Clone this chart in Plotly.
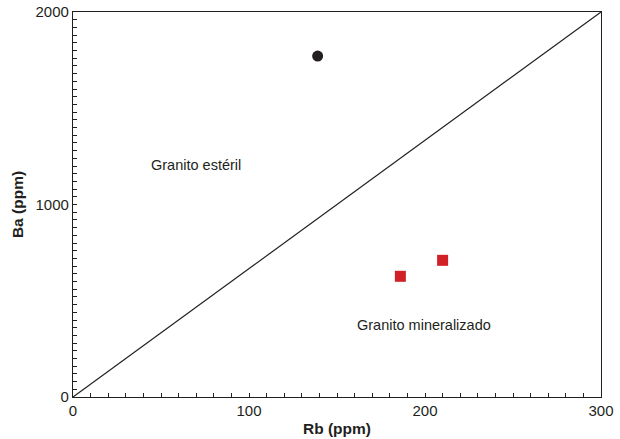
import plotly.graph_objects as go

# Data
esteril_rb = [139]
esteril_ba = [1771]
mineral_rb = [186, 210]
mineral_ba = [627, 710]
line_rb = [0, 300]
line_ba = [0, 2000]
label_texts = ["Granito estéril", "Granito mineralizado"]
label_rb = [70, 199.3]
label_ba = [1205, 374]

FONT = "Liberation Sans, Arial, Helvetica"
INK = "#231f20"

fig = go.Figure()
fig.add_trace(go.Scatter(x=line_rb, y=line_ba, mode="lines",
                         line=dict(color=INK, width=1.2), showlegend=False,
                         cliponaxis=False))
fig.add_trace(go.Scatter(x=esteril_rb, y=esteril_ba, mode="markers",
                         marker=dict(symbol="circle", size=11, color=INK),
                         showlegend=False))
fig.add_trace(go.Scatter(x=mineral_rb, y=mineral_ba, mode="markers",
                         marker=dict(symbol="square", size=11, color="#d12127"),
                         showlegend=False))
for t, xx, yy in zip(label_texts, label_rb, label_ba):
    fig.add_annotation(x=xx, y=yy, text=t, showarrow=False,
                       font=dict(size=14.5, color=INK, family=FONT))

axis_common = dict(showgrid=False, zeroline=False, showline=True, linecolor=INK,
                   linewidth=1.3, mirror=True, ticks="inside", ticklen=4, tickwidth=1.2,
                   tickcolor=INK, automargin=False,
                   tickfont=dict(size=15, color=INK, family=FONT))

fig.update_xaxes(range=[0, 300], tickvals=list(range(0, 301, 10)),
                 ticktext=[str(v) if v % 100 == 0 else "" for v in range(0, 301, 10)],
                 title=dict(text="<b>Rb (ppm)</b>", standoff=4,
                            font=dict(size=15.5, color=INK, family=FONT)),
                 **axis_common)
fig.update_yaxes(range=[0, 2000], tickvals=list(range(0, 2001, 40)),
                 ticktext=[str(v) if v % 1000 == 0 else "" for v in range(0, 2001, 40)],
                 title=dict(text="<b>Ba (ppm)</b>", standoff=8,
                            font=dict(size=15.5, color=INK, family=FONT)),
                 **axis_common)

fig.update_layout(width=620, height=439, margin=dict(l=73, r=19, t=12, b=42),
                  plot_bgcolor="white", paper_bgcolor="white")
fig.write_html("out.html")
